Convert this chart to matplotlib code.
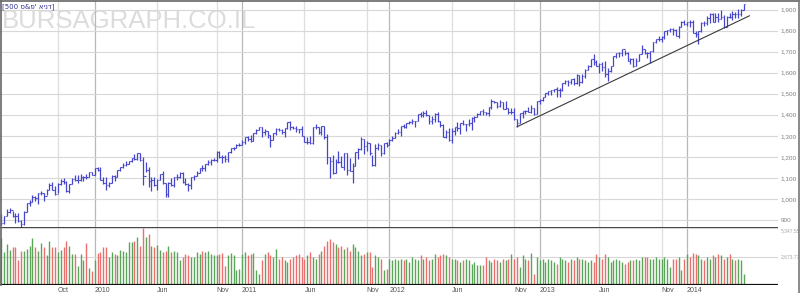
import numpy as np
import pandas as pd
import matplotlib as mpl
mpl.use('Agg')
import matplotlib.pyplot as plt
from matplotlib.lines import Line2D

# weekly bars, week ending Friday
start_week = '2009-05-22'
end_week = '2014-05-30'
prev_close = 882  # close of the week before the first bar

closes = [887, 919, 940, 946, 921, 918, 896, 879, 940, 979, 987, 1010, 1005, 1026, 1029, 1016, 1042, 1068, 1044, 1025,
          1071, 1087, 1080, 1036, 1069, 1093, 1091, 1091, 1106, 1106, 1102, 1126, 1115,
          1145, 1136, 1091, 1074, 1066, 1075, 1109, 1104, 1138, 1150, 1160, 1167, 1178, 1194, 1192, 1217, 1187, 1111,
          1136, 1087, 1089, 1065, 1092, 1117, 1076, 1022, 1078, 1065, 1102, 1102, 1121, 1079, 1071, 1065, 1104, 1110,
          1125, 1148, 1146, 1166, 1176, 1183, 1183, 1225, 1200, 1199, 1189, 1225, 1240, 1244, 1256, 1258,
          1272, 1293, 1284, 1276, 1311, 1329, 1343, 1320, 1321, 1304, 1279, 1313, 1332, 1329, 1320, 1337, 1364, 1340,
          1338, 1333, 1331, 1300, 1271, 1271, 1268, 1340, 1344, 1316, 1345, 1292, 1199, 1179, 1124, 1177, 1174, 1154,
          1216, 1136, 1131, 1155, 1225, 1238, 1285, 1253, 1264, 1216, 1159, 1244, 1255, 1219, 1265, 1258,
          1278, 1289, 1315, 1316, 1345, 1342, 1361, 1366, 1370, 1371, 1404, 1397, 1408, 1398, 1370, 1378, 1403, 1369,
          1353, 1295, 1318, 1278, 1325, 1343, 1335, 1362, 1354, 1357, 1362, 1386, 1391, 1405, 1418, 1411, 1407, 1438,
          1466, 1460, 1441, 1461, 1429, 1433, 1411, 1414, 1380, 1359, 1409, 1416, 1418, 1413, 1430, 1402,
          1466, 1472, 1486, 1503, 1513, 1518, 1520, 1516, 1518, 1551, 1561, 1556, 1569, 1553, 1588, 1555, 1582, 1614,
          1633, 1667, 1650, 1631, 1643, 1626, 1593, 1606, 1632, 1680, 1692, 1692, 1710, 1691, 1656, 1664, 1633, 1655,
          1688, 1710, 1692, 1691, 1703, 1745, 1760, 1762, 1771, 1798, 1804, 1806, 1805, 1775, 1818, 1841,
          1831, 1842, 1839, 1790, 1783, 1797, 1838, 1836, 1859, 1878, 1841, 1866, 1857, 1865, 1816, 1864, 1863, 1881,
          1878, 1878, 1900, 1924]

highs = [930, 920, 951, 956, 945, 935, 931, 898, 943, 980, 996, 1018, 1013, 1027, 1040, 1028, 1049, 1074, 1080, 1063,
         1076, 1096, 1101, 1085, 1072, 1101, 1113, 1112, 1119, 1111, 1117, 1127, 1130,
         1146, 1150, 1151, 1104, 1104, 1080, 1112, 1112, 1139, 1150, 1170, 1181, 1181, 1194, 1214, 1218, 1220, 1200,
         1174, 1150, 1105, 1105, 1094, 1120, 1131, 1076, 1080, 1099, 1103, 1120, 1128, 1129, 1100, 1075, 1105, 1112,
         1131, 1149, 1159, 1168, 1184, 1189, 1196, 1227, 1226, 1207, 1208, 1225, 1241, 1247, 1260, 1265,
         1278, 1293, 1297, 1302, 1311, 1330, 1344, 1340, 1332, 1325, 1303, 1314, 1337, 1339, 1332, 1337, 1364, 1370,
         1348, 1346, 1334, 1346, 1300, 1293, 1298, 1341, 1356, 1344, 1347, 1345, 1307, 1199, 1208, 1190, 1230, 1205,
         1220, 1220, 1195, 1171, 1225, 1240, 1293, 1285, 1277, 1266, 1208, 1262, 1267, 1255, 1265, 1270,
         1285, 1297, 1316, 1334, 1345, 1354, 1363, 1368, 1378, 1372, 1405, 1414, 1419, 1422, 1398, 1392, 1406, 1415,
         1369, 1354, 1328, 1335, 1335, 1343, 1364, 1363, 1374, 1358, 1380, 1387, 1394, 1406, 1418, 1426, 1413, 1438,
         1474, 1467, 1460, 1470, 1461, 1464, 1434, 1434, 1433, 1381, 1409, 1420, 1423, 1438, 1448, 1430,
         1467, 1473, 1486, 1503, 1514, 1518, 1524, 1531, 1525, 1552, 1564, 1563, 1570, 1573, 1593, 1589, 1592, 1618,
         1635, 1667, 1687, 1661, 1646, 1649, 1654, 1620, 1632, 1680, 1693, 1698, 1710, 1709, 1696, 1669, 1670, 1671,
         1690, 1730, 1710, 1696, 1704, 1745, 1760, 1775, 1774, 1798, 1804, 1813, 1810, 1809, 1823, 1844,
         1849, 1843, 1851, 1850, 1799, 1798, 1840, 1847, 1867, 1883, 1882, 1883, 1884, 1897, 1872, 1869, 1884, 1891,
         1889, 1902, 1901, 1925]

lows = [878, 881, 917, 931, 914, 888, 892, 869, 875, 940, 968, 987, 990, 978, 1021, 992, 1017, 1042, 1041, 1020,
        1026, 1066, 1070, 1033, 1029, 1070, 1086, 1074, 1086, 1085, 1097, 1102, 1114,
        1116, 1131, 1090, 1071, 1044, 1057, 1075, 1086, 1104, 1135, 1147, 1155, 1165, 1174, 1186, 1183, 1181, 1066,
        1126, 1056, 1040, 1061, 1043, 1088, 1070, 1011, 1011, 1062, 1056, 1088, 1101, 1076, 1067, 1040, 1049, 1091,
        1108, 1122, 1131, 1132, 1159, 1159, 1178, 1177, 1194, 1173, 1177, 1174, 1220, 1231, 1242, 1252,
        1257, 1262, 1275, 1270, 1276, 1307, 1326, 1294, 1302, 1291, 1249, 1279, 1303, 1321, 1307, 1295, 1334, 1329,
        1332, 1319, 1312, 1297, 1269, 1262, 1262, 1262, 1334, 1309, 1302, 1283, 1168, 1101, 1119, 1122, 1171, 1153,
        1136, 1114, 1131, 1074, 1158, 1191, 1231, 1215, 1226, 1209, 1158, 1158, 1231, 1202, 1212, 1248,
        1258, 1275, 1289, 1307, 1300, 1335, 1335, 1355, 1355, 1340, 1369, 1387, 1391, 1395, 1357, 1358, 1366, 1367,
        1343, 1292, 1291, 1277, 1267, 1306, 1324, 1309, 1351, 1325, 1345, 1329, 1367, 1389, 1398, 1398, 1397, 1396,
        1428, 1455, 1430, 1437, 1425, 1427, 1403, 1403, 1373, 1343, 1359, 1385, 1403, 1412, 1410, 1401,
        1402, 1451, 1465, 1485, 1495, 1494, 1510, 1485, 1486, 1514, 1547, 1538, 1546, 1539, 1548, 1536, 1553, 1574,
        1611, 1626, 1635, 1630, 1598, 1608, 1577, 1560, 1601, 1631, 1671, 1676, 1681, 1684, 1654, 1639, 1628, 1633,
        1656, 1688, 1688, 1670, 1646, 1700, 1740, 1752, 1746, 1761, 1780, 1794, 1779, 1772, 1767, 1819,
        1827, 1823, 1815, 1790, 1770, 1738, 1791, 1824, 1825, 1834, 1839, 1839, 1839, 1856, 1814, 1815, 1859, 1850,
        1859, 1862, 1868, 1898]

volumes = [4400, 3070, 3840, 3290, 3530, 3530, 2300, 3230, 3230, 3380,
           3690, 4400, 3530, 3170, 3900, 3600, 2860, 4150, 3530, 3530,
           3070, 3290, 3600, 4150, 3690, 2920, 2920, 1750, 2920, 2300,
           3900, 1630, 1320, 2300, 2980, 3070, 3530, 3530, 2610, 3070,
           2920, 2860, 3290, 3230, 3070, 4000, 4000, 4150, 4460, 3690,
           5347, 4460, 4765, 3690, 3530, 3780, 3290, 3070, 3230, 3690,
           3070, 3170, 3070, 2370, 2670, 2920, 2770, 2670, 2610, 3070,
           2920, 3170, 3070, 3230, 2920, 2840, 2770, 2920, 3000, 1750,
           2770, 2980, 2770, 1450, 1540, 2920, 3070, 2770, 2920, 3000,
           1380, 1076, 2300, 2920, 3070, 2770, 2610, 3380, 2460, 2610,
           2300, 2150, 2460, 2610, 2770, 2920, 2610, 2460, 2770, 3070,
           2610, 2460, 2920, 3230, 3690, 4150, 4300, 4000, 3840, 3530,
           3690, 3380, 3530, 3230, 3840, 3530, 3230, 2770, 2920, 3070,
           3070, 1690, 2770, 2610, 2460, 1380, 1540, 2460, 2300, 2460,
           2300, 2460, 2300, 2460, 2150, 2610, 2460, 2300, 2770, 2460,
           2610, 2300, 2460, 2920, 2610, 2770, 2920, 2770, 2610, 2460,
           2460, 2300, 2150, 2300, 2460, 2300, 2000, 2150, 1840, 1840,
           1840, 2670, 2300, 2150, 2460, 2300, 2150, 2460, 2300, 2460,
           2920, 2460, 2610, 1690, 2770, 2460, 2300, 3000, 1076, 2610,
           2300, 2460, 2150, 2460, 2300, 2150, 2000, 2610, 2460, 2300,
           2150, 2460, 2300, 2670, 2460, 2460, 2300, 2150, 2300, 2150,
           2920, 2610, 2460, 2920, 2610, 2150, 2300, 2460, 2300, 2150,
           2000, 2150, 2300, 2300, 2460, 2300, 2610, 2610, 2610, 2460,
           2460, 2610, 2460, 2460, 2610, 2460, 1690, 2460, 2460, 2610,
           1380, 2460, 2920, 2610, 3000, 2920, 2770, 2460, 2300, 2610,
           2460, 2770, 2610, 2920, 2770, 2460, 2610, 2920, 2460, 2300,
           2460, 2300, 1000]

price_ticks = [900, 1000, 1100, 1200, 1300, 1400, 1500, 1600, 1700, 1800, 1900]
vol_ticks = [2673.77, 5347.55]
vol_labels = ['2,673.77', '5,347.55']

tick_months = ['2009-10', '2010-01', '2010-06', '2010-11', '2011-01', '2011-06', '2011-11',
               '2012-01', '2012-06', '2012-11', '2013-01', '2013-06', '2013-11', '2014-01']
tick_labels = ['Oct', '2010', 'Jun', 'Nov', '2011', 'Jun', 'Nov',
               '2012', 'Jun', 'Nov', '2013', 'Jun', 'Nov', '2014']

# support line drawn on the chart
trend_dates = ['2012-11-16', '2014-06-13']
trend_values = [1343, 1870]

title = "[500 ס&פ' אינד]"
watermark = 'BURSAGRAPH.CO.IL'

# ---------------------------------------------------------------
plt.rcParams['font.family'] = ['Liberation Sans', 'DejaVu Sans']

dates = pd.date_range(start_week, end_week, freq='W-FRI')
n = len(dates)
x = np.arange(n)
closes = np.array(closes)
opens = np.concatenate([[prev_close], closes[:-1]])
up = closes >= opens

# gridline at the first bar whose week (monday) falls in the tick month
mondays = dates - pd.Timedelta(days=4)
tick_pos = []
for m in tick_months:
    per = pd.Period(m, 'M')
    idx = np.where(mondays.to_period('M') == per)[0][0]
    tick_pos.append(idx)

W, H = 800, 293
fig = plt.figure(figsize=(W / 100, H / 100), dpi=100)
ax_p = fig.add_axes([0, (H - 228) / H, 778 / W, 227 / H])
ax_v = fig.add_axes([0, (H - 285) / H, 778 / W, 57 / H], sharex=ax_p)

xmin, xmax = -0.43, 274.1

for ax in (ax_p, ax_v):
    ax.patch.set_visible(False)
    for s in ax.spines.values():
        s.set_visible(False)
    for p, lab in zip(tick_pos, tick_labels):
        col = '#b8b8b8' if lab.isdigit() else '#dedede'
        ax.axvline(p, color=col, lw=0.9, zorder=0)

# price panel
ax_p.vlines(x, lows, highs, color='#4646cc', lw=0.9)
ax_p.hlines(opens, x - 0.45, x, color='#4646cc', lw=0.8)
ax_p.hlines(closes, x, x + 0.45, color='#4646cc', lw=0.8)
t0 = pd.Timestamp(start_week)
tx = [(pd.Timestamp(d) - t0).days / 7 for d in trend_dates]
ax_p.plot(tx, trend_values, color='#3a3a3a', lw=0.8)
ax_p.set_ylim(862, 1940.4)
ax_p.set_xlim(xmin, xmax)
ax_p.set_yticks(price_ticks)
ax_p.set_yticklabels([f'{v:,}' for v in price_ticks])
ax_p.yaxis.tick_right()
ax_p.tick_params(axis='y', length=0, pad=2, labelsize=4.6, labelcolor='#808080')
ax_p.tick_params(axis='x', length=0, labelbottom=False)
ax_p.grid(axis='y', color='#d8d8d8', lw=0.8)
ax_p.set_axisbelow(True)
ax_p.axhline(862, color='#222222', lw=1.2)

# volume panel
vcol = np.where(up, '#5aa55a', '#ea7070')
ax_v.vlines(x, 0, volumes, colors=vcol, lw=1.0)
ax_v.set_ylim(0, 5347.55)
ax_v.set_xlim(xmin, xmax)
ax_v.set_yticks(vol_ticks)
ax_v.set_yticklabels(vol_labels)
ax_v.yaxis.tick_right()
ax_v.tick_params(axis='y', length=0, pad=2, labelsize=3.6, labelcolor='#a8a8a8')
ax_v.get_yticklabels()[1].set_va('top')
ax_v.grid(axis='y', color='#d8d8d8', lw=0.8)
ax_v.set_axisbelow(True)
ax_v.axhline(0, color='#111111', lw=1.6)
ax_v.set_xticks(tick_pos)
ax_v.set_xticklabels(tick_labels, ha='left', fontsize=5, color='#555555')
ax_v.tick_params(axis='x', length=0, pad=1.5)

# frame
for (x0, y0, x1, y1, c) in [(0.5, 0.5, 799, 0.5, '#666666'), (0.5, 0.5, 0.5, 285, '#666666'),
                            (798.5, 0.5, 798.5, 293, '#777777')]:
    fig.add_artist(Line2D([x0 / W, x1 / W], [1 - y0 / H, 1 - y1 / H], color=c, lw=1.2))

fig.text(2 / W, 1 - 7 / H, title, fontsize=5, color='#333399', va='center', ha='left',
         family=['DejaVu Sans'])
fig.text(2 / W, 1 - 21 / H, watermark, fontsize=18.5, color='#dcdcdc', va='center', ha='left',
         zorder=-1)

plt.savefig('out.png', dpi=100)
